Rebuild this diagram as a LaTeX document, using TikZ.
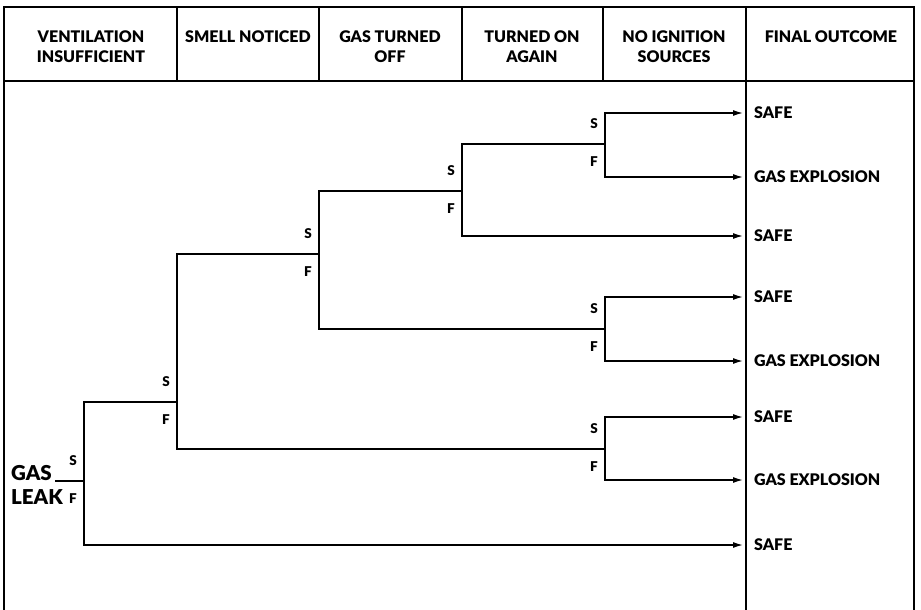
\documentclass[tikz,border=0pt]{standalone}
\usepackage{fontspec}
\setmainfont{Lato}[BoldFont=Lato Black]
\usetikzlibrary{arrows.meta}
\begin{document}
\begin{tikzpicture}[x=1pt,y=-1pt,
  frame/.style={line width=1.1pt},
  branch/.style={line width=1.4pt},
  arr/.style={branch,-{Latex[length=10pt,width=6pt]},shorten >=3pt},
  head/.style={font=\bfseries\fontsize{16}{20}\selectfont,align=center,inner sep=0pt},
  outc/.style={font=\bfseries\fontsize{16}{18}\selectfont,anchor=west,inner xsep=8pt,inner ysep=0pt},
  lab/.style={font=\bfseries\fontsize{13.5}{14}\selectfont,inner sep=0pt}]
\useasboundingbox (0,0) rectangle (921,610);
% frame
\draw[frame] (4,610) -- (4,7) -- (914,7) -- (914,610);
\draw[frame] (4,81) -- (914,81);
\foreach \xx in {177,319,462,603} \draw[frame] (\xx,7) -- (\xx,81);
\draw[frame] (746,7) -- (746,610);
% headers
\node[head] (h1) at (91,47) {VENTILATION\\INSUFFICIENT};
\node[head] (h2) at (248,37) {SMELL NOTICED};
\node[head] (h3) at (390,47) {GAS TURNED\\OFF};
\node[head] (h4) at (532,47) {TURNED ON\\AGAIN};
\node[head] (h5) at (674,47) {NO IGNITION\\SOURCES};
\node[head] (h6) at (831,37) {FINAL OUTCOME};
% start
\node[font=\bfseries\fontsize{20.5}{24}\selectfont,align=left,anchor=west,inner sep=0pt] (leak) at (11,485) {GAS\\LEAK};
\coordinate (r0) at (55,481);
% junctions
\coordinate (j0) at (84,481);
\coordinate (j1) at (177,402);
\coordinate (j2) at (319,254);
\coordinate (j3) at (462,191);
\coordinate (j4) at (605,144);
\coordinate (j5) at (605,329);
\coordinate (j6) at (605,449);
% outcomes
\node[outc] (o1) at (746,113) {SAFE};
\node[outc] (o2) at (746,177) {GAS EXPLOSION};
\node[outc] (o3) at (746,236) {SAFE};
\node[outc] (o4) at (746,297) {SAFE};
\node[outc] (o5) at (746,361) {GAS EXPLOSION};
\node[outc] (o6) at (746,417) {SAFE};
\node[outc] (o7) at (746,480) {GAS EXPLOSION};
\node[outc] (o8) at (746,545) {SAFE};
% branches
\draw[branch] (r0) -- (j0);
\draw[branch] (j0) |- (j1);
\draw[arr] (j0) |- (o8.west);
\draw[branch] (j1) |- (j2);
\draw[branch] (j1) |- (j6);
\draw[branch] (j2) |- (j3);
\draw[branch] (j2) |- (j5);
\draw[branch] (j3) |- (j4);
\draw[arr] (j3) |- (o3.west);
\draw[arr] (j4) |- (o1.west);
\draw[arr] (j4) |- (o2.west);
\draw[arr] (j5) |- (o4.west);
\draw[arr] (j5) |- (o5.west);
\draw[arr] (j6) |- (o6.west);
\draw[arr] (j6) |- (o7.west);
% S/F labels
\foreach \j/\n in {j0/0,j1/1,j2/2,j3/3,j4/4,j5/5,j6/6}{
  \node[lab] (s\n) at ([shift={(-11,-20)}]\j) {S};
  \node[lab] (f\n) at ([shift={(-11,18)}]\j) {F};
}
\end{tikzpicture}
\end{document}
